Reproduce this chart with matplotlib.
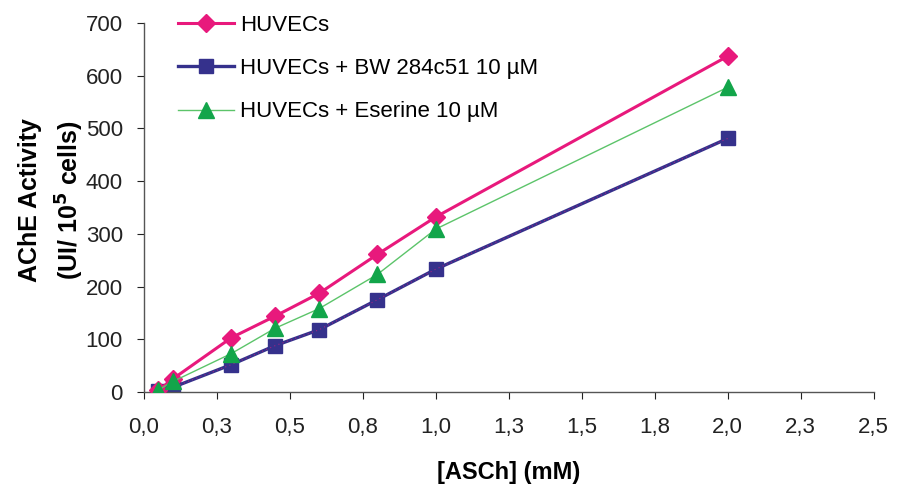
import numpy as np
import matplotlib
matplotlib.use("Agg")
import matplotlib.pyplot as plt

plt.rcParams['font.family'] = ['Liberation Sans', 'DejaVu Sans']

# substrate concentrations (mM)
asch = [0.05, 0.1, 0.3, 0.45, 0.6, 0.8, 1.0, 2.0]
huvec = [3, 25, 103, 144, 187, 261, 332, 637]
huvec_bw = [2, 9, 52, 88, 118, 175, 233, 481]
huvec_eser = [4, 20, 73, 121, 158, 223, 309, 578]

xticks = [0, 0.25, 0.5, 0.75, 1.0, 1.25, 1.5, 1.75, 2.0, 2.25, 2.5]
xtick_labels = ['0,0', '0,3', '0,5', '0,8', '1,0', '1,3', '1,5', '1,8', '2,0', '2,3', '2,5']
yticks = [0, 100, 200, 300, 400, 500, 600, 700]

pink = '#e8197c'
navy = '#35318c'
green = '#12a54a'
lgreen = '#5cc46a'

fig = plt.figure(figsize=(9.1, 4.91), dpi=100)
ax = fig.add_axes([0.158, 0.2016, 0.802, 0.7515])

ax.plot(asch, huvec, color=pink, lw=2.2, marker='D', ms=9.5,
        mfc=pink, mec=pink, label='HUVECs', zorder=3)
ax.plot(asch, huvec_bw, color=navy, lw=2.4, marker='s', ms=10.5,
        mfc=navy, mec=navy, label='HUVECs + BW 284c51 10 µM', zorder=2)
# pinkish speckle on the navy line
ax.plot(asch, huvec_bw, color=pink, lw=0.8, ls=(0, (1, 3)), alpha=0.6, zorder=2)
ax.plot(asch, huvec_eser, color=lgreen, lw=1.0, marker='^', ms=11,
        mfc=green, mec=green, label='HUVECs + Eserine 10 µM', zorder=4)

ax.set_xlim(0, 2.5)
ax.set_ylim(0, 700)
ax.set_xticks(xticks)
ax.set_xticklabels(xtick_labels)
ax.set_yticks(yticks)
ax.spines['top'].set_visible(False)
ax.spines['right'].set_visible(False)
for s in ['left', 'bottom']:
    ax.spines[s].set_color('#555555')
    ax.spines[s].set_linewidth(1.0)
ax.tick_params(axis='both', labelsize=16, colors='#222222', length=5, direction='out')
ax.tick_params(axis='x', pad=13)
ax.tick_params(axis='y', pad=10)

ax.set_xlabel('[ASCh] (mM)', fontsize=17, fontweight='bold')
ax.xaxis.set_label_coords(0.5, -0.188)
ax.set_ylabel('AChE Activity\n(UI/ 10$^\\mathbf{5}$ cells)', fontsize=18,
              fontweight='bold', linespacing=1.5)
ax.yaxis.set_label_coords(-0.079, 0.52)

leg = ax.legend(loc='upper left', bbox_to_anchor=(178 / 910, 1 - 15 / 491),
                bbox_transform=fig.transFigure, frameon=False, fontsize=16,
                handlelength=2.5, handletextpad=0.3, labelspacing=1.0,
                borderpad=0, borderaxespad=0)

fig.savefig('out.png', dpi=100, facecolor='white')
